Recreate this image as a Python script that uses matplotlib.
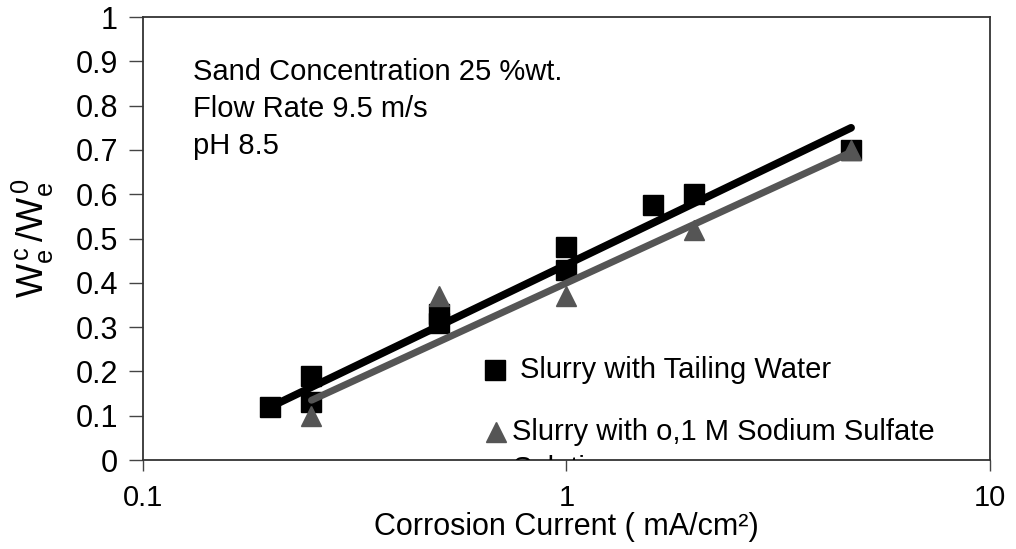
import numpy as np
import matplotlib
matplotlib.use("Agg")
import matplotlib.pyplot as plt

plt.rcParams["font.family"] = ["Liberation Sans", "DejaVu Sans"]
plt.rcParams["mathtext.fontset"] = "custom"
plt.rcParams["mathtext.rm"] = "Liberation Sans"
plt.rcParams["mathtext.it"] = "Liberation Sans"

# Slurry with tailing water (square markers)
tailing_x = [0.2, 0.25, 0.25, 0.5, 0.5, 1.0, 1.0, 1.6, 2.0, 4.7]
tailing_y = [0.12, 0.19, 0.13, 0.33, 0.31, 0.48, 0.43, 0.575, 0.60, 0.70]

# Slurry with 0.1 M sodium sulfate (triangle markers)
sulfate_x = [0.25, 0.5, 1.0, 2.0, 4.7]
sulfate_y = [0.10, 0.37, 0.37, 0.52, 0.70]

# logarithmic trend lines, end points
tailing_trend_x = [0.2, 4.7]
tailing_trend_y = [0.12, 0.75]
sulfate_trend_x = [0.25, 4.7]
sulfate_trend_y = [0.135, 0.695]

xticks = [0.1, 1, 10]
xtick_labels = ["0.1", "1", "10"]
yticks = np.arange(0, 1.01, 0.1)
ytick_labels = ["0", "0.1", "0.2", "0.3", "0.4", "0.5", "0.6", "0.7", "0.8", "0.9", "1"]

gray = "#555555"

fig = plt.figure(figsize=(10.16, 5.49), dpi=100)
ax = fig.add_axes([0.1407, 0.162, 0.8337, 0.807])

ax.plot(tailing_x, tailing_y, "s", color="black", markersize=14, zorder=3)
ax.plot(tailing_trend_x, tailing_trend_y, "-", color="black", lw=5.5,
        solid_capstyle="round", zorder=4)
ax.plot(sulfate_trend_x, sulfate_trend_y, "-", color=gray, lw=5,
        solid_capstyle="round", zorder=5)
ax.plot(sulfate_x, sulfate_y, "^", color=gray, markersize=15, zorder=6)

ax.set_xscale("log")
ax.set_xlim(0.1, 10)
ax.set_ylim(0, 1)
ax.set_xticks(xticks)
ax.set_xticklabels(xtick_labels)
ax.xaxis.set_minor_locator(matplotlib.ticker.NullLocator())
ax.set_yticks(yticks)
ax.set_yticklabels(ytick_labels)

ax.tick_params(axis="y", direction="out", length=10, width=1, color="#444444",
               labelsize=22, pad=8)
ax.tick_params(axis="x", direction="out", length=8, width=1, color="#444444",
               labelsize=21, pad=9)
for s in ax.spines.values():
    s.set_color("#333333")
    s.set_linewidth(1.3)

ax.set_xlabel("Corrosion Current ( mA/cm²)", fontsize=22, labelpad=0)
ax.set_ylabel(r"$\mathrm{W_e^{\,c}\,/W_e^{\,0}}$", fontsize=26, labelpad=14)

# condition notes
notes = ["Sand Concentration 25 %wt.", "Flow Rate 9.5 m/s", "pH 8.5"]
for i, t in enumerate(notes):
    ax.text(0.059, 0.875 - i * 0.083, t, transform=ax.transAxes,
            fontsize=21, va="center", ha="left")

# legend drawn by hand to keep the clipped second line
ax.plot([0.4156], [0.203], "s", color="black", markersize=14,
        transform=ax.transAxes, clip_on=False)
ax.text(0.445, 0.203, "Slurry with Tailing Water", transform=ax.transAxes,
        fontsize=21, va="center", ha="left")
ax.plot([0.417], [0.063], "^", color=gray, markersize=15,
        transform=ax.transAxes, clip_on=False)
ax.text(0.436, 0.063, "Slurry with o,1 M Sodium Sulfate", transform=ax.transAxes,
        fontsize=21, va="center", ha="left")
ax.text(0.436, -0.02, "Solution", transform=ax.transAxes,
        fontsize=21, va="center", ha="left", clip_on=True)

fig.savefig("out.png", dpi=100)
